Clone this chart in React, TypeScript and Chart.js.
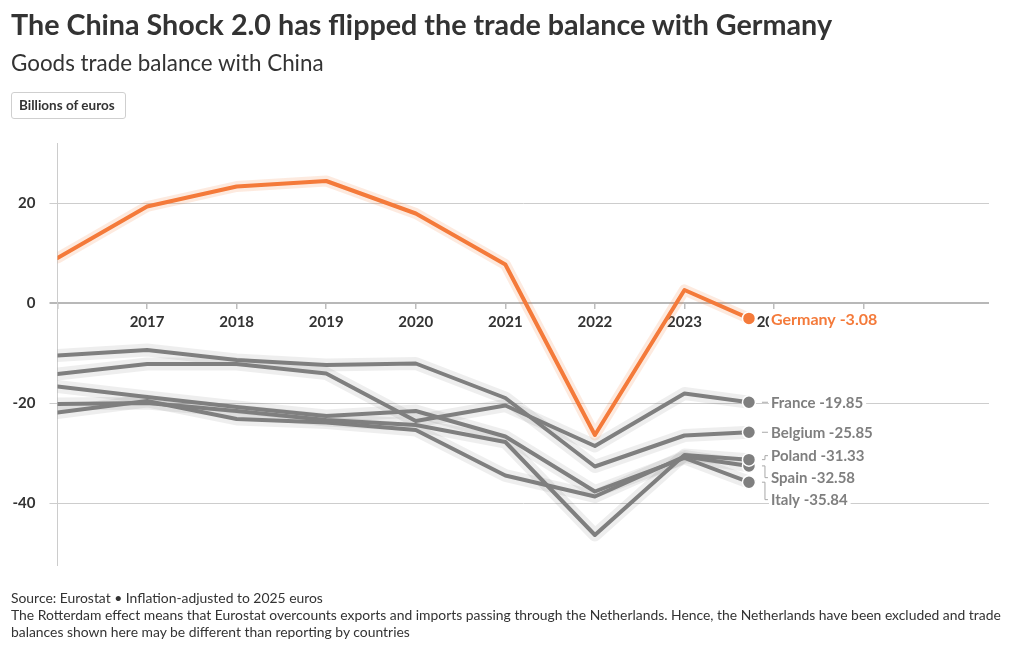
import React, { useEffect, useRef } from "react";
import { Chart, registerables } from "chart.js";

Chart.register(...registerables);

// Observation points (the last one is the latest partial-year reading)
const years = [2016, 2017, 2018, 2019, 2020, 2021, 2022, 2023, 2023.72];
const axisYears = [2016, 2017, 2018, 2019, 2020, 2021, 2022, 2023, 2024, 2025];
const labelledYears = [2017, 2018, 2019, 2020, 2021, 2022, 2023, 2024];
const valueTicks = [-40, -20, 0, 20];

// Goods trade balance with China, billions of euros
const germany = [9.0, 19.3, 23.3, 24.4, 17.9, 7.7, -26.4, 2.6, -3.08];
const france = [-14.2, -12.2, -12.2, -14.1, -23.6, -20.5, -28.6, -18.1, -19.85];
const belgium = [-10.5, -9.4, -11.4, -12.4, -12.1, -19.0, -32.7, -26.5, -25.85];
const poland = [-20.2, -20.0, -21.6, -23.4, -24.4, -27.8, -46.4, -30.4, -31.33];
const spain = [-21.9, -19.6, -23.2, -23.9, -25.4, -34.5, -38.7, -30.7, -32.58];
const italy = [-16.7, -18.8, -20.8, -22.6, -21.6, -26.7, -37.7, -31.0, -35.84];

const countryNames = ["Germany", "France", "Belgium", "Poland", "Spain", "Italy"];
const countryValues = [germany, france, belgium, poland, spain, italy];

const ORANGE = "#f47a3a";
const GRAY = "#7f7f7f";
const FONT = "Lato, 'Open Sans', sans-serif";

const series = countryNames.map((name, i) => ({
  name,
  values: countryValues[i],
  color: i === 0 ? ORANGE : GRAY,
  highlight: i === 0,
}));

const last = years.length - 1;

const endLabels = {
  id: "endLabels",
  afterDatasetsDraw(chart: any) {
    const { ctx } = chart;
    const xs = chart.scales.x;
    const ys = chart.scales.y;
    const dotX = xs.getPixelForValue(years[last]);
    const textX = dotX + 22;
    const leaderX = dotX + 16;

    ctx.save();
    ctx.textBaseline = "middle";
    ctx.textAlign = "left";

    const drawLabel = (text: string, y: number, color: string, size: number) => {
      ctx.font = `bold ${size}px ${FONT}`;
      const w = ctx.measureText(text).width;
      ctx.fillStyle = "#ffffff";
      ctx.fillRect(textX - 2, y - 9, w + 5, 18);
      ctx.fillStyle = color;
      ctx.fillText(text, textX, y + 1);
    };

    // Grey countries: stack labels downward so they never overlap
    const items = series
      .filter((s) => !s.highlight)
      .map((s) => ({ s, dy: ys.getPixelForValue(s.values[last]) }))
      .sort((a, b) => a.dy - b.dy);
    const gap = 22;
    let prev = -Infinity;
    items.forEach((it, i) => {
      const next = items[i + 1];
      const crowded = next && next.dy - it.dy < gap;
      const ly = Math.max(it.dy - (crowded ? 4 : 0), prev + gap);
      prev = ly;
      ctx.strokeStyle = "#a8a8a8";
      ctx.lineWidth = 1;
      ctx.beginPath();
      ctx.moveTo(leaderX - 3, it.dy);
      ctx.lineTo(leaderX, it.dy);
      ctx.lineTo(leaderX, ly);
      ctx.lineTo(leaderX + 3, ly);
      ctx.stroke();
      drawLabel(`${it.s.name} ${it.s.values[last].toFixed(2)}`, ly, GRAY, 15);
    });

    const g = series.find((s) => s.highlight)!;
    drawLabel(`${g.name} ${g.values[last].toFixed(2)}`, ys.getPixelForValue(g.values[last]), ORANGE, 16);
    ctx.restore();
  },
};

function TradeChart() {
  const ref = useRef<HTMLCanvasElement | null>(null);

  useEffect(() => {
    if (!ref.current) return;
    const toPoints = (vals: number[]) => vals.map((v, i) => ({ x: years[i], y: v }));

    const halos = series.map((s) => ({
      data: toPoints(s.values),
      borderColor: s.highlight ? "rgba(244,122,58,0.16)" : "rgba(0,0,0,0.065)",
      borderWidth: s.highlight ? 11 : 13,
      pointRadius: 0,
      order: 10,
    }));
    const lines = series.map((s) => ({
      label: s.name,
      data: toPoints(s.values),
      borderColor: s.color,
      backgroundColor: s.color,
      borderWidth: 4,
      pointRadius: (c: any) => (c.dataIndex === last ? 6.5 : 0),
      pointBorderColor: "#ffffff",
      pointBorderWidth: 1.5,
      pointBackgroundColor: s.color,
      order: s.highlight ? 1 : 5,
    }));

    const chart = new Chart(ref.current, {
      type: "line",
      data: { datasets: [...halos, ...lines] as any },
      options: {
        responsive: false,
        animation: false,
        events: [],
        layout: { padding: { left: 0, top: 143, right: 31, bottom: 85 } },
        elements: {
          line: { tension: 0, borderJoinStyle: "round", borderCapStyle: "round", fill: false },
        },
        plugins: { legend: { display: false }, tooltip: { enabled: false } },
        scales: {
          x: {
            type: "linear",
            position: { y: 0 } as any,
            min: 2016,
            max: 2026.4,
            afterBuildTicks: (scale: any) => {
              scale.ticks = axisYears.map((v) => ({ value: v }));
            },
            ticks: {
              autoSkip: false,
              maxRotation: 0,
              padding: 4,
              color: "#333333",
              font: { family: FONT, size: 15, weight: "bold" },
              callback: (v: any) => (labelledYears.includes(v) ? String(v) : ""),
            },
            grid: { drawOnChartArea: false, drawTicks: true, tickLength: 6, color: "#bdbdbd", lineWidth: 1.5 },
            border: { display: false },
          },
          y: {
            type: "linear",
            min: -52.4,
            max: 32,
            afterBuildTicks: (scale: any) => {
              scale.ticks = valueTicks.map((v) => ({ value: v }));
            },
            afterFit: (scale: any) => {
              scale.width = 57.5;
            },
            ticks: {
              padding: 14,
              color: "#333333",
              font: { family: FONT, size: 15, weight: "bold" },
              callback: (v: any) => String(v),
            },
            grid: {
              tickLength: 8,
              color: (c: any) => (c.tick && c.tick.value === 0 ? "#b8b8b8" : "#cdcdcd"),
              lineWidth: (c: any) => (c.tick && c.tick.value === 0 ? 2 : 1),
            },
            border: { display: true, color: "#cccccc", width: 1 },
          },
        },
      },
      plugins: [endLabels],
    });
    return () => chart.destroy();
  }, []);

  return (
    <canvas
      ref={ref}
      width={1020}
      height={650}
      style={{ position: "absolute", left: 0, top: 0, width: 1020, height: 650 }}
    />
  );
}

export default function App() {
  return (
    <div
      style={{
        position: "fixed",
        left: 0,
        top: 0,
        width: 1020,
        height: 650,
        background: "#ffffff",
        color: "#333333",
        fontFamily: FONT,
        overflow: "hidden",
      }}
    >
      <TradeChart />
      <div style={{ position: "absolute", left: 11, top: 7, fontSize: 28.7, fontWeight: 700, whiteSpace: "nowrap" }}>
        The China Shock 2.0 has flipped the trade balance with Germany
      </div>
      <div style={{ position: "absolute", left: 11, top: 49, fontSize: 22.4, fontWeight: 400, whiteSpace: "nowrap" }}>
        Goods trade balance with China
      </div>
      <div
        style={{
          position: "absolute",
          left: 11,
          top: 92,
          width: 106,
          height: 25,
          border: "1px solid #cfcfcf",
          borderRadius: 3,
          fontSize: 13.5,
          fontWeight: 700,
          lineHeight: "25px",
          paddingLeft: 7,
          boxSizing: "content-box",
          whiteSpace: "nowrap",
        }}
      >
        Billions of euros
      </div>
      <div
        style={{
          position: "absolute",
          left: 11,
          top: 589,
          fontFamily: FONT,
          fontSize: 13.9,
          lineHeight: "17px",
          color: "#333333",
          whiteSpace: "nowrap",
        }}
      >
        <div>Source: Eurostat • Inflation-adjusted to 2025 euros</div>
        <div>
          The Rotterdam effect means that Eurostat overcounts exports and imports passing through the Netherlands. Hence, the Netherlands have been excluded and trade
        </div>
        <div>balances shown here may be different than reporting by countries</div>
      </div>
    </div>
  );
}
